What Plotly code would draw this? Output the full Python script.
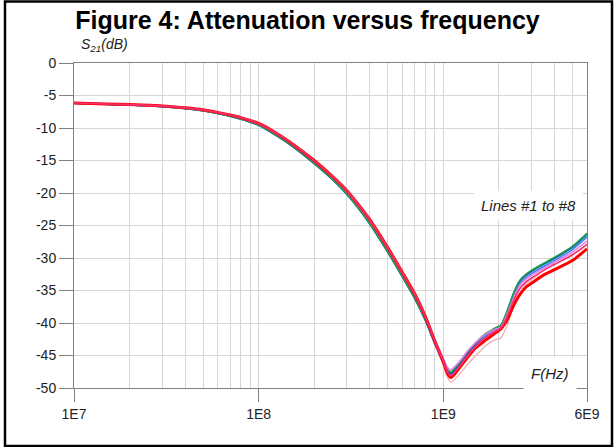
import plotly.graph_objects as go
import numpy as np

# Frequencies (Hz) at which curves were read
freq = [1e7, 1.5e7, 2e7, 3e7, 4e7, 5e7, 6e7, 7e7, 8e7, 1e8,
        1.2e8, 1.5e8, 2e8, 2.5e8, 3e8, 3.5e8, 4e8, 5e8, 6e8, 7e8,
        8e8, 9e8, 1e9, 1.05e9, 1.1e9, 1.2e9, 1.35e9, 1.5e9, 1.7e9, 1.9e9,
        2.05e9, 2.2e9, 2.4e9, 2.6e9, 2.8e9, 3e9, 3.5e9, 4e9, 5e9, 6e9]

line_light_pink = [-6.2, -6.35, -6.45, -6.65, -6.95, -7.25, -7.65, -8.05, -8.45, -9.35,
                   -10.6, -12.4, -15.1, -17.5, -19.7, -22.0, -24.2, -28.5, -32.3, -35.7,
                   -39.2, -43.1, -46.5, -48.3, -49.1, -48.2, -46.4, -45.0, -43.5, -42.6,
                   -42.3, -40.6, -37.6, -35.4, -34.1, -33.4, -31.9, -31.0, -29.6, -28.0]
line_cyan = [-6.2, -6.35, -6.45, -6.7, -7.0, -7.35, -7.75, -8.2, -8.65, -9.6,
             -10.9, -12.7, -15.5, -17.9, -20.2, -22.5, -24.8, -29.1, -32.9, -36.2,
             -39.6, -43.1, -45.9, -47.2, -47.6, -46.5, -44.6, -43.2, -41.8, -41.0,
             -40.5, -38.6, -35.7, -33.6, -32.7, -32.1, -31.0, -30.1, -28.4, -26.5]
line_green = [-6.2, -6.35, -6.45, -6.7, -7.0, -7.35, -7.75, -8.15, -8.6, -9.5,
              -10.8, -12.6, -15.4, -17.8, -20.1, -22.4, -24.7, -29.0, -32.8, -36.1,
              -39.5, -43.0, -45.8, -47.1, -47.5, -46.4, -44.4, -43.0, -41.6, -40.8,
              -40.3, -38.4, -35.4, -33.4, -32.5, -31.9, -30.8, -29.9, -28.2, -26.2]
line_navy = [-6.2, -6.35, -6.45, -6.7, -7.0, -7.35, -7.75, -8.15, -8.6, -9.55,
             -10.85, -12.65, -15.45, -17.85, -20.15, -22.45, -24.75, -29.05, -32.85, -36.2,
             -39.6, -43.2, -46.1, -47.4, -47.8, -46.7, -44.7, -43.2, -41.8, -40.9,
             -40.4, -38.5, -35.5, -33.5, -32.6, -32.0, -30.9, -30.0, -28.3, -26.3]
line_blue = [-6.2, -6.35, -6.45, -6.7, -7.0, -7.35, -7.7, -8.1, -8.55, -9.5,
             -10.75, -12.55, -15.3, -17.7, -20.0, -22.3, -24.6, -28.9, -32.7, -36.0,
             -39.5, -43.2, -46.2, -47.6, -48.0, -46.9, -45.0, -43.5, -42.0, -41.1,
             -40.6, -38.8, -35.9, -33.9, -33.0, -32.4, -31.3, -30.4, -28.7, -26.8]
line_violet = [-6.15, -6.3, -6.4, -6.6, -6.9, -7.25, -7.65, -8.05, -8.5, -9.4,
               -10.6, -12.4, -15.1, -17.5, -19.8, -22.1, -24.3, -28.6, -32.4, -35.7,
               -39.1, -42.6, -45.4, -46.8, -47.2, -46.2, -44.4, -43.0, -41.7, -41.0,
               -40.6, -38.9, -36.2, -34.2, -33.3, -32.7, -31.6, -30.7, -29.1, -27.4]
line_deep_pink = [-6.15, -6.3, -6.4, -6.6, -6.9, -7.2, -7.6, -8.0, -8.4, -9.3,
                  -10.5, -12.3, -15.0, -17.4, -19.6, -21.9, -24.1, -28.4, -32.2, -35.5,
                  -39.0, -42.8, -45.9, -47.5, -48.1, -47.0, -45.1, -43.6, -42.2, -41.3,
                  -40.8, -39.2, -36.6, -34.7, -33.7, -33.1, -31.9, -31.0, -29.5, -27.9]
line_red = [-6.15, -6.3, -6.4, -6.6, -6.9, -7.2, -7.6, -8.0, -8.4, -9.3,
            -10.5, -12.3, -15.0, -17.4, -19.6, -21.9, -24.1, -28.4, -32.2, -35.5,
            -39.0, -42.8, -46.0, -47.7, -48.4, -47.2, -45.3, -43.8, -42.6, -41.6,
            -40.9, -39.7, -37.3, -35.6, -34.5, -33.9, -32.6, -31.8, -30.4, -28.6]

series = [
    ("Line #8", line_light_pink, "#f2a8a8", 1.2),
    ("Line #7", line_cyan, "#35c4c4", 1.8),
    ("Line #6", line_navy, "#1c2f8f", 1.6),
    ("Line #5", line_blue, "#4a7cff", 1.6),
    ("Line #4", line_green, "#1fa04a", 1.6),
    ("Line #3", line_violet, "#e57ee5", 1.6),
    ("Line #1", line_red, "#ff0000", 3.0),
    ("Line #2", line_deep_pink, "#f5306f", 1.6),
]

x_tickvals = [1e7, 1e8, 1e9, 6e9]
x_ticktext = ["1E7", "1E8", "1E9", "6E9"]
x_minor = [m * 10 ** d for d in (7, 8, 9) for m in range(2, 10) if m * 10 ** d < 6e9]
y_tickvals = list(range(-50, 1, 5))
y_ticktext = [str(v) for v in y_tickvals]

fig = go.Figure()
for name, vals, color, w in series:
    fig.add_trace(go.Scatter(x=freq, y=vals, mode="lines", name=name,
                             line=dict(color=color, width=w, shape="spline", smoothing=0.6)))

W, H = 615, 447
L, R, T, B = 74, 28, 63, 59
pw, ph = W - L - R, H - T - B

def px2paper_x(px):
    return (px - L) / pw

def px2paper_y(py):
    return (H - B - py) / ph

font = "Liberation Sans, Arial, sans-serif"
fig.update_layout(
    width=W, height=H,
    margin=dict(l=L, r=R, t=T, b=B, autoexpand=False),
    paper_bgcolor="white", plot_bgcolor="white",
    showlegend=False,
    font=dict(family=font, size=14, color="#222222"),
    title=dict(text="<b>Figure 4: Attenuation versus frequency</b>",
               x=0.5, xref="container", xanchor="center",
               y=1 - 20 / H, yref="container", yanchor="middle",
               font=dict(family=font, size=25, color="#000000")),
    xaxis=dict(type="log", range=[7, np.log10(6e9)],
               tickmode="array", tickvals=x_tickvals, ticktext=x_ticktext,
               ticks="outside", ticklen=13, tickcolor="#808080", tickwidth=1,
               showgrid=True, gridcolor="#d6d6d6", gridwidth=1,
               minor=dict(tickmode="array", tickvals=x_minor, showgrid=True,
                          gridcolor="#d6d6d6", gridwidth=1, ticks=""),
               showline=True, linecolor="#808080", linewidth=1, mirror=True,
               zeroline=False, tickfont=dict(size=14, color="#222222")),
    yaxis=dict(range=[-50, 0], tickmode="array", tickvals=y_tickvals, ticktext=y_ticktext,
               ticks="outside", ticklen=14, tickcolor="#808080", tickwidth=1,
               showgrid=True, gridcolor="#d6d6d6", gridwidth=1,
               showline=True, linecolor="#808080", linewidth=1, mirror=True,
               zeroline=False, tickfont=dict(size=14, color="#222222")),
    annotations=[
        dict(text="<i>S<sub>21</sub>(dB)</i>", xref="paper", yref="paper",
             x=px2paper_x(79), y=px2paper_y(45), xanchor="left", yanchor="middle",
             showarrow=False, font=dict(size=14, color="#222222")),
        dict(text="<i>Lines #1 to #8</i>", xref="paper", yref="paper",
             x=px2paper_x(583), y=px2paper_y(205), xanchor="right", yanchor="middle",
             showarrow=False, bgcolor="white", borderpad=6,
             font=dict(size=15, color="#222222")),
        dict(text="<i>F(Hz)</i>", xref="paper", yref="paper",
             x=px2paper_x(577), y=px2paper_y(373), xanchor="right", yanchor="middle",
             showarrow=False, bgcolor="white", borderpad=7,
             font=dict(size=15, color="#222222")),
    ],
    shapes=[
        dict(type="rect", xref="paper", yref="paper",
             x0=px2paper_x(5), x1=px2paper_x(612), y0=px2paper_y(446), y1=px2paper_y(1.5),
             line=dict(color="black", width=2.5), fillcolor="rgba(0,0,0,0)", layer="above"),
    ],
)

fig.write_html("out.html", config={"displayModeBar": False},
               post_script="document.body.style.margin='0px';document.body.style.overflow='hidden';")
